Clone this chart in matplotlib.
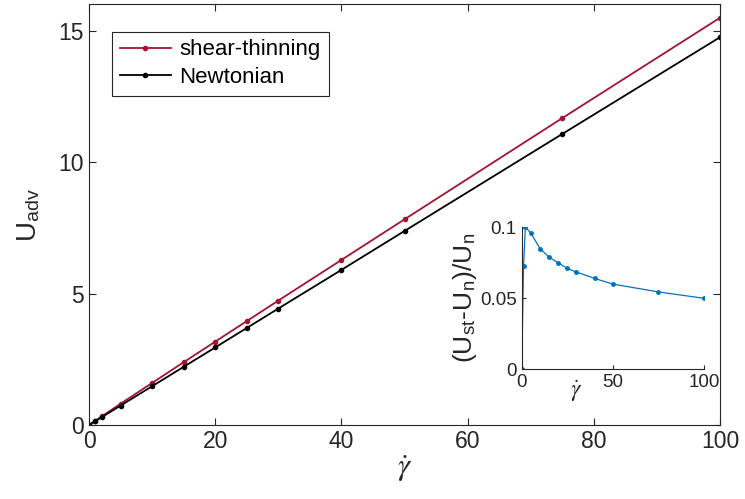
import matplotlib.pyplot as plt
import numpy as np

plt.rcParams['font.family'] = ['Liberation Sans', 'DejaVu Sans']
plt.rcParams['mathtext.fontset'] = 'stix'

# shear rate values
gamma_dot = [0, 1, 2, 5, 10, 15, 20, 25, 30, 40, 50, 75, 100]
# advection speed
u_newtonian = [0, 0.148, 0.295, 0.738, 1.475, 2.213, 2.95, 3.69, 4.43, 5.9, 7.38, 11.07, 14.75]
u_shear = [0, 0.159, 0.325, 0.809, 1.600, 2.388, 3.171, 3.952, 4.733, 6.278, 7.823, 11.673, 15.49]
# relative difference (U_st - U_n)/U_n
rel_diff = [0.0002, 0.073, 0.100, 0.096, 0.085, 0.079, 0.075, 0.071, 0.0685, 0.064, 0.060, 0.0545, 0.050]

RED = '#A2142F'
BLUE = '#0072BD'
AXC = '#262626'


def style_axes(ax, size, box=True):
    ax.tick_params(direction='in', colors=AXC, labelsize=size, length=5,
                   top=box, right=box, labelcolor=AXC)
    for name, sp in ax.spines.items():
        sp.set_color(AXC)
        sp.set_linewidth(0.8)
        if not box and name in ('top', 'right'):
            sp.set_visible(False)


def main():
    fig = plt.figure(figsize=(7.45, 4.99), dpi=100)

    ax = fig.add_axes([0.1195, 0.1483, 0.8470, 0.8430])
    ax.plot(gamma_dot, u_shear, '.-', color=RED, lw=1.3, ms=6, label='shear-thinning')
    ax.plot(gamma_dot, u_newtonian, '.-', color='black', lw=1.3, ms=6, label='Newtonian')
    ax.set_xlim(0, 100)
    ax.set_ylim(0, 16)
    ax.set_xticks([0, 20, 40, 60, 80, 100])
    ax.set_yticks([0, 5, 10, 15])
    style_axes(ax, 16.5)
    ax.set_xlabel(r'$\dot{\gamma}$', fontsize=22, color=AXC, labelpad=0)
    ax.set_ylabel(r'U$_{\mathregular{adv}}$', fontsize=20, color=AXC, labelpad=12)
    leg = ax.legend(loc='upper left', bbox_to_anchor=(0.036, 0.935), fontsize=16,
                    fancybox=False, framealpha=1, edgecolor=AXC, handlelength=2.3,
                    borderpad=0.35, labelspacing=0.3, handletextpad=0.4,
                    borderaxespad=0)
    leg.get_frame().set_linewidth(0.8)

    ins = fig.add_axes([0.7003, 0.2599, 0.2447, 0.2846])
    ins.plot(gamma_dot, rel_diff, '.-', color=BLUE, lw=0.9, ms=5)
    ins.set_xlim(0, 100)
    ins.set_ylim(0, 0.1)
    ins.set_xticks([0, 50, 100])
    ins.set_xticklabels(['0', '50', '100'])
    ins.set_yticks([0, 0.05, 0.1])
    ins.set_yticklabels(['0', '0.05', '0.1'])
    style_axes(ins, 13.5, box=False)
    ins.tick_params(length=3)
    ins.set_xlabel(r'$\dot{\gamma}$', fontsize=17, color=AXC)
    ins.xaxis.set_label_coords(0.30, -0.07)
    ins.set_ylabel(r'(U$_{\mathregular{st}}$-U$_{\mathregular{n}}$)/U$_{\mathregular{n}}$',
                   fontsize=19, color=AXC, labelpad=1)

    fig.savefig('out.png', dpi=100)


if __name__ == "__main__":
    main()
